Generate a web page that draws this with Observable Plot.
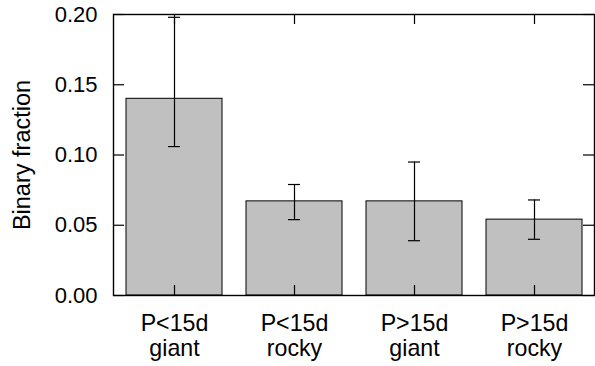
<!DOCTYPE html>
<html>
<head>
<meta charset="utf-8">
<script src="https://cdn.jsdelivr.net/npm/d3@7"></script>
<script src="https://cdn.jsdelivr.net/npm/@observablehq/plot@0.6"></script>
<style>
  html, body { margin: 0; padding: 0; background: #fff; }
  #chart svg { font-family: "Liberation Sans", Arial, sans-serif; display: block; }
</style>
</head>
<body>
<div id="chart"></div>
<script>
const periods = ["P<15d", "P<15d", "P>15d", "P>15d"];
const types = ["giant", "rocky", "giant", "rocky"];
const fraction = [0.140, 0.067, 0.067, 0.054];
const errLow = [0.106, 0.054, 0.039, 0.040];
const errHigh = [0.198, 0.079, 0.095, 0.068];
const yTicks = [0, 0.05, 0.10, 0.15, 0.20];
const yLabel = "Binary fraction";

const categories = periods.map((p, i) => p + "\n" + types[i]);
const data = categories.map((c, i) => ({cat: c, v: fraction[i], lo: errLow[i], hi: errHigh[i]}));

const W = 595, H = 366;
const mL = 113, mR = 1, mT = 14, mB = 71;
const fw = W - mL - mR, fh = H - mT - mB;

const chart = Plot.plot({
  width: W,
  height: H,
  marginLeft: mL,
  marginRight: mR,
  marginTop: mT,
  marginBottom: mB,
  x: {type: "band", domain: categories, paddingInner: 0.2, paddingOuter: 0.1},
  y: {domain: [0, 0.2]},
  marks: [
    Plot.barY(data, {x: "cat", y: "v", fill: "#c0c0c0", stroke: "#000", strokeWidth: 1}),
    Plot.ruleX(data, {x: "cat", y1: "lo", y2: "hi", stroke: "#000", strokeWidth: 1.2}),
    Plot.tickY(data, {x: "cat", y: "hi", stroke: "#000", strokeWidth: 1.2, inset: 42}),
    Plot.tickY(data, {x: "cat", y: "lo", stroke: "#000", strokeWidth: 1.2, inset: 42}),
    // inward ticks
    Plot.tickY(yTicks, {y: d => d, stroke: "#000", strokeWidth: 1.2, insetRight: fw - 11}),
    Plot.tickY(yTicks, {y: d => d, stroke: "#000", strokeWidth: 1.2, insetLeft: fw - 11}),
    Plot.tickX(categories, {x: d => d, stroke: "#000", strokeWidth: 1.2, insetTop: fh - 10}),
    Plot.tickX(categories, {x: d => d, stroke: "#000", strokeWidth: 1.2, insetBottom: fh - 10}),
    Plot.axisY({ticks: yTicks, tickFormat: d3.format(".2f"), tickSize: 0, tickPadding: 16, fontSize: 22, fill: "#000", label: null}),
    Plot.text([yLabel], {text: d => d, frameAnchor: "left", rotate: -90, dx: -91, fontSize: 23.5, fill: "#000",
      textAnchor: "middle", lineAnchor: "middle"}),
    Plot.axisX({tickSize: 0, tickPadding: 17, fontSize: 23.2, lineHeight: 1.1, fill: "#000", label: null}),
    Plot.frame({stroke: "#000", strokeWidth: 1.4})
  ]
});
document.getElementById("chart").appendChild(chart);
</script>
</body>
</html>
